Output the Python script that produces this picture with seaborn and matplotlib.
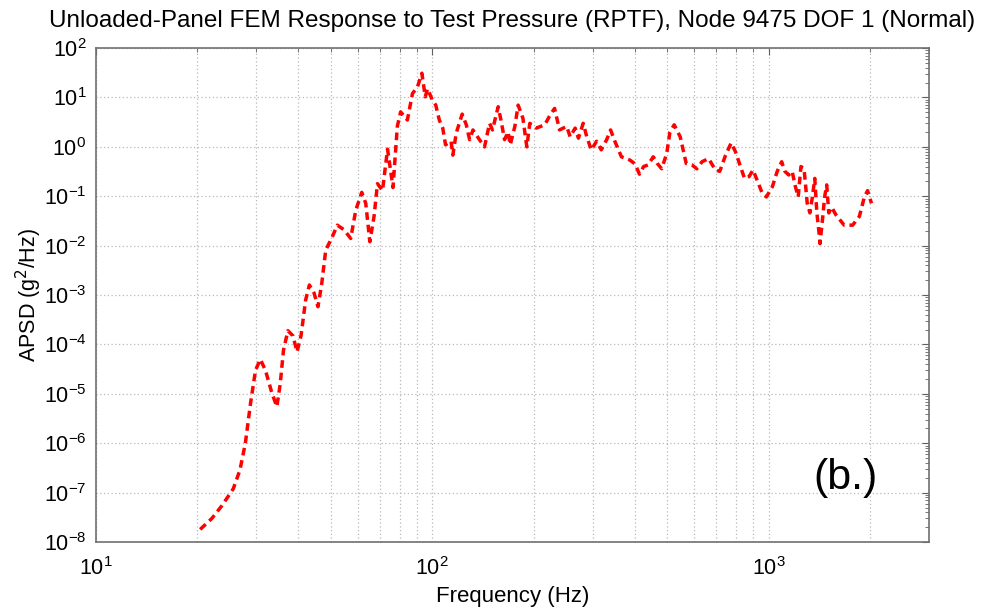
import numpy as np
import pandas as pd
import matplotlib
matplotlib.use("Agg")
import matplotlib.pyplot as plt
import matplotlib.ticker as mticker
import seaborn as sns

# frequency (Hz) and APSD (g^2/Hz)
freq = [20.4, 22.1, 23.7, 25.6, 26.8, 27.8, 28.8, 29.8, 30.8, 31.9,
        33.4, 34.5, 35.3, 36.1, 37.2, 38.5, 39.6, 40.7, 42.0, 43.1,
        44.5, 45.7, 46.9, 48.2, 50.4, 52.2, 54.6, 57.2, 59.2, 61.7,
        63.4, 65.2, 67.1, 68.7, 71.1, 73.6, 76.4, 78.7, 80.5, 84.3,
        87.3, 90.4, 93.1, 95.3, 96.8, 100, 102.4, 104.9, 107.4, 109.5,
        113.7, 115.1, 117.8, 122.7, 126.2, 129.1, 132.1, 138.1, 143, 148,
        151, 157, 160, 164, 168, 170.5, 176, 180, 186, 191,
        195, 204, 216, 224, 231, 239, 251, 257, 266, 272,
        281, 288, 297, 308, 318, 330, 339, 349, 365, 387,
        401, 413, 425, 438, 454, 467, 481, 498, 509, 524,
        546, 569, 592, 612, 634, 663, 695, 716, 745, 774,
        797, 825, 848, 875, 899, 925, 958, 985, 1026, 1061,
        1094, 1118, 1148, 1175, 1202, 1225, 1248, 1275, 1303, 1327,
        1350, 1372, 1392, 1413, 1422, 1446, 1468, 1489, 1510, 1540,
        1586, 1678, 1778, 1862, 1927, 1970, 2023]
apsd = [1.8e-8, 3.0e-8, 5.5e-8, 1.2e-7, 2.9e-7, 1.0e-6, 6.4e-6, 3.0e-5, 5.0e-5, 3.0e-5,
        1.0e-5, 5.5e-6, 1.6e-5, 7.7e-5, 1.9e-4, 1.5e-4, 7.1e-5, 1.5e-4, 7.9e-4, 1.6e-3,
        1.1e-3, 5.8e-4, 1.7e-3, 8.1e-3, 1.5e-2, 2.6e-2, 2.1e-2, 1.4e-2, 5.2e-2, 0.12,
        0.072, 0.012, 0.039, 0.18, 0.13, 0.9, 0.15, 2.6, 5.1, 3.5,
        12, 16.5, 31, 10.3, 15, 8.9, 7, 3.5, 2.4, 1.1,
        1.3, 0.68, 1.9, 4.6, 2.8, 1.4, 2.2, 1.4, 1.0, 3.0,
        2.2, 6.5, 3.5, 1.4, 2.0, 1.1, 2.6, 7, 3.8, 1.0,
        3.0, 2.4, 2.8, 4.4, 6.0, 2.2, 2.6, 1.6, 2.4, 1.5,
        3.0, 1.6, 0.87, 1.3, 0.87, 1.4, 2.2, 1.3, 0.63, 0.54,
        0.45, 0.28, 0.4, 0.43, 0.63, 0.46, 0.36, 0.74, 2.0, 2.8,
        1.6, 0.46, 0.43, 0.36, 0.5, 0.58, 0.34, 0.32, 0.68, 1.2,
        0.8, 0.4, 0.23, 0.25, 0.34, 0.21, 0.114, 0.097, 0.155, 0.32,
        0.5, 0.32, 0.27, 0.32, 0.155, 0.097, 0.4, 0.36, 0.072, 0.046,
        0.097, 0.23, 0.046, 0.018, 0.011, 0.033, 0.097, 0.17, 0.046, 0.06,
        0.042, 0.026, 0.026, 0.039, 0.097, 0.13, 0.072]

df = pd.DataFrame({"Frequency": freq, "APSD": apsd})

sns.set_style("white")
plt.rcParams["font.family"] = ["Liberation Sans", "DejaVu Sans"]
plt.rcParams["text.color"] = "black"
plt.rcParams["axes.labelcolor"] = "black"
plt.rcParams["axes.unicode_minus"] = False

fig = plt.figure(figsize=(9.9, 6.07), dpi=100)
ax = fig.add_axes([0.097, 0.107, 0.8414, 0.8138])

sns.lineplot(data=df, x="Frequency", y="APSD", ax=ax, color="#ff0000",
             linestyle=(0, (2.2, 1.4)), linewidth=2.5)

ax.set_xscale("log")
ax.set_yscale("log")
ax.set_xlim(10, 3000)
ax.set_ylim(1e-8, 1e2)

ax.yaxis.set_major_locator(mticker.LogLocator(base=10, numticks=20))
ax.yaxis.set_minor_locator(mticker.LogLocator(base=10, subs=np.arange(2, 10), numticks=20))
ax.yaxis.set_minor_formatter(mticker.NullFormatter())
ax.xaxis.set_minor_formatter(mticker.NullFormatter())

ax.grid(True, which="major", axis="both", color="#b8b8b8", linestyle=(0, (1, 2)), linewidth=0.9)
ax.grid(True, which="minor", axis="x", color="#b8b8b8", linestyle=(0, (1, 2)), linewidth=0.9)

ax.tick_params(which="both", direction="in", top=True, right=True, colors="#606060",
               labelcolor="black", labelsize=15.5, pad=7)
ax.tick_params(axis="x", which="major", pad=11)
ax.tick_params(which="major", length=5)
ax.tick_params(which="minor", length=3)
for s in ax.spines.values():
    s.set_color("#707070")
    s.set_linewidth(1.2)

ax.set_xlabel("Frequency (Hz)", fontsize=16, labelpad=4)
ax.set_ylabel("APSD (g$^2$/Hz)", fontsize=15.5, labelpad=0)
ax.set_title("Unloaded-Panel FEM Response to Test Pressure (RPTF), Node 9475 DOF 1 (Normal)",
             fontsize=17.5, pad=15)
ax.text(0.9, 0.13, "(b.)", transform=ax.transAxes, fontsize=31, ha="center", va="center")

fig.savefig("out.png", dpi=100)
